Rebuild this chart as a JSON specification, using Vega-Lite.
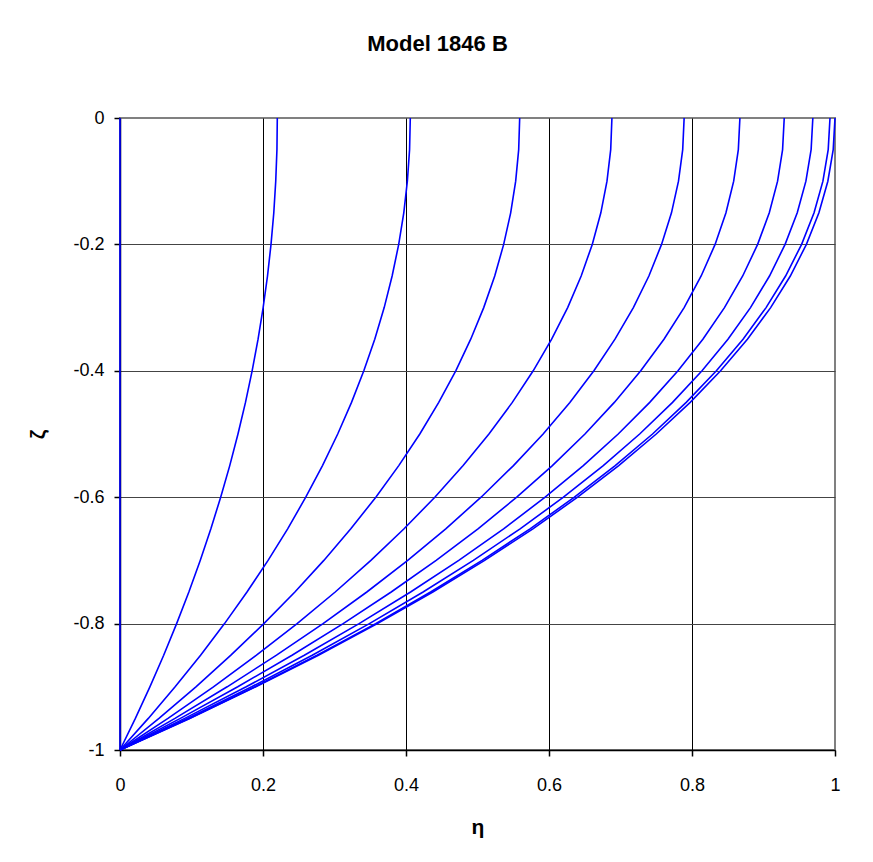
{
"$schema": "https://vega.github.io/schema/vega-lite/v6.json",
"width": 715, "height": 632,
"autosize": {"type": "none"},
"padding": {"left": 120, "top": 118, "right": 38, "bottom": 112},
"background": "white",
"title": {"text": "Model 1846 B", "font": "Liberation Sans", "fontSize": 22, "fontWeight": "bold", "color": "#000000", "anchor": "middle", "dx": -40, "offset": 53},
"datasets": {"curves": [
{"c":1,"eta":0,"zeta":0},{"c":1,"eta":0,"zeta":-1},
{"c":2,"eta":0.22,"zeta":0},{"c":2,"eta":0.2195,"zeta":-0.05},{"c":2,"eta":0.2178,"zeta":-0.1},{"c":2,"eta":0.2151,"zeta":-0.15},{"c":2,"eta":0.2112,"zeta":-0.2},{"c":2,"eta":0.2063,"zeta":-0.25},{"c":2,"eta":0.2002,"zeta":-0.3},{"c":2,"eta":0.1931,"zeta":-0.35},{"c":2,"eta":0.1848,"zeta":-0.4},{"c":2,"eta":0.1755,"zeta":-0.45},{"c":2,"eta":0.165,"zeta":-0.5},{"c":2,"eta":0.1535,"zeta":-0.55},{"c":2,"eta":0.1408,"zeta":-0.6},{"c":2,"eta":0.1271,"zeta":-0.65},{"c":2,"eta":0.1122,"zeta":-0.7},{"c":2,"eta":0.0963,"zeta":-0.75},{"c":2,"eta":0.0792,"zeta":-0.8},{"c":2,"eta":0.0611,"zeta":-0.85},{"c":2,"eta":0.0418,"zeta":-0.9},{"c":2,"eta":0.0215,"zeta":-0.95},{"c":2,"eta":0,"zeta":-1},
{"c":3,"eta":0.406,"zeta":0},{"c":3,"eta":0.405,"zeta":-0.05},{"c":3,"eta":0.4019,"zeta":-0.1},{"c":3,"eta":0.3969,"zeta":-0.15},{"c":3,"eta":0.3898,"zeta":-0.2},{"c":3,"eta":0.3806,"zeta":-0.25},{"c":3,"eta":0.3695,"zeta":-0.3},{"c":3,"eta":0.3563,"zeta":-0.35},{"c":3,"eta":0.341,"zeta":-0.4},{"c":3,"eta":0.3238,"zeta":-0.45},{"c":3,"eta":0.3045,"zeta":-0.5},{"c":3,"eta":0.2832,"zeta":-0.55},{"c":3,"eta":0.2598,"zeta":-0.6},{"c":3,"eta":0.2345,"zeta":-0.65},{"c":3,"eta":0.2071,"zeta":-0.7},{"c":3,"eta":0.1776,"zeta":-0.75},{"c":3,"eta":0.1462,"zeta":-0.8},{"c":3,"eta":0.1127,"zeta":-0.85},{"c":3,"eta":0.0771,"zeta":-0.9},{"c":3,"eta":0.0396,"zeta":-0.95},{"c":3,"eta":0,"zeta":-1},
{"c":4,"eta":0.559,"zeta":0},{"c":4,"eta":0.5576,"zeta":-0.05},{"c":4,"eta":0.5534,"zeta":-0.1},{"c":4,"eta":0.5464,"zeta":-0.15},{"c":4,"eta":0.5366,"zeta":-0.2},{"c":4,"eta":0.5241,"zeta":-0.25},{"c":4,"eta":0.5087,"zeta":-0.3},{"c":4,"eta":0.4905,"zeta":-0.35},{"c":4,"eta":0.4696,"zeta":-0.4},{"c":4,"eta":0.4458,"zeta":-0.45},{"c":4,"eta":0.4193,"zeta":-0.5},{"c":4,"eta":0.3899,"zeta":-0.55},{"c":4,"eta":0.3578,"zeta":-0.6},{"c":4,"eta":0.3228,"zeta":-0.65},{"c":4,"eta":0.2851,"zeta":-0.7},{"c":4,"eta":0.2446,"zeta":-0.75},{"c":4,"eta":0.2012,"zeta":-0.8},{"c":4,"eta":0.1551,"zeta":-0.85},{"c":4,"eta":0.1062,"zeta":-0.9},{"c":4,"eta":0.0545,"zeta":-0.95},{"c":4,"eta":0,"zeta":-1},
{"c":5,"eta":0.688,"zeta":0},{"c":5,"eta":0.6863,"zeta":-0.05},{"c":5,"eta":0.6811,"zeta":-0.1},{"c":5,"eta":0.6725,"zeta":-0.15},{"c":5,"eta":0.6605,"zeta":-0.2},{"c":5,"eta":0.645,"zeta":-0.25},{"c":5,"eta":0.6261,"zeta":-0.3},{"c":5,"eta":0.6037,"zeta":-0.35},{"c":5,"eta":0.5779,"zeta":-0.4},{"c":5,"eta":0.5487,"zeta":-0.45},{"c":5,"eta":0.516,"zeta":-0.5},{"c":5,"eta":0.4799,"zeta":-0.55},{"c":5,"eta":0.4403,"zeta":-0.6},{"c":5,"eta":0.3973,"zeta":-0.65},{"c":5,"eta":0.3509,"zeta":-0.7},{"c":5,"eta":0.301,"zeta":-0.75},{"c":5,"eta":0.2477,"zeta":-0.8},{"c":5,"eta":0.1909,"zeta":-0.85},{"c":5,"eta":0.1307,"zeta":-0.9},{"c":5,"eta":0.0671,"zeta":-0.95},{"c":5,"eta":0,"zeta":-1},
{"c":6,"eta":0.789,"zeta":0},{"c":6,"eta":0.787,"zeta":-0.05},{"c":6,"eta":0.7811,"zeta":-0.1},{"c":6,"eta":0.7713,"zeta":-0.15},{"c":6,"eta":0.7574,"zeta":-0.2},{"c":6,"eta":0.7397,"zeta":-0.25},{"c":6,"eta":0.718,"zeta":-0.3},{"c":6,"eta":0.6923,"zeta":-0.35},{"c":6,"eta":0.6628,"zeta":-0.4},{"c":6,"eta":0.6292,"zeta":-0.45},{"c":6,"eta":0.5918,"zeta":-0.5},{"c":6,"eta":0.5503,"zeta":-0.55},{"c":6,"eta":0.505,"zeta":-0.6},{"c":6,"eta":0.4556,"zeta":-0.65},{"c":6,"eta":0.4024,"zeta":-0.7},{"c":6,"eta":0.3452,"zeta":-0.75},{"c":6,"eta":0.284,"zeta":-0.8},{"c":6,"eta":0.2189,"zeta":-0.85},{"c":6,"eta":0.1499,"zeta":-0.9},{"c":6,"eta":0.0769,"zeta":-0.95},{"c":6,"eta":0,"zeta":-1},
{"c":7,"eta":0.867,"zeta":0},{"c":7,"eta":0.8648,"zeta":-0.05},{"c":7,"eta":0.8583,"zeta":-0.1},{"c":7,"eta":0.8475,"zeta":-0.15},{"c":7,"eta":0.8323,"zeta":-0.2},{"c":7,"eta":0.8128,"zeta":-0.25},{"c":7,"eta":0.789,"zeta":-0.3},{"c":7,"eta":0.7608,"zeta":-0.35},{"c":7,"eta":0.7283,"zeta":-0.4},{"c":7,"eta":0.6914,"zeta":-0.45},{"c":7,"eta":0.6503,"zeta":-0.5},{"c":7,"eta":0.6047,"zeta":-0.55},{"c":7,"eta":0.5549,"zeta":-0.6},{"c":7,"eta":0.5007,"zeta":-0.65},{"c":7,"eta":0.4422,"zeta":-0.7},{"c":7,"eta":0.3793,"zeta":-0.75},{"c":7,"eta":0.3121,"zeta":-0.8},{"c":7,"eta":0.2406,"zeta":-0.85},{"c":7,"eta":0.1647,"zeta":-0.9},{"c":7,"eta":0.0845,"zeta":-0.95},{"c":7,"eta":0,"zeta":-1},
{"c":8,"eta":0.929,"zeta":0},{"c":8,"eta":0.9267,"zeta":-0.05},{"c":8,"eta":0.9197,"zeta":-0.1},{"c":8,"eta":0.9081,"zeta":-0.15},{"c":8,"eta":0.8918,"zeta":-0.2},{"c":8,"eta":0.8709,"zeta":-0.25},{"c":8,"eta":0.8454,"zeta":-0.3},{"c":8,"eta":0.8152,"zeta":-0.35},{"c":8,"eta":0.7804,"zeta":-0.4},{"c":8,"eta":0.7409,"zeta":-0.45},{"c":8,"eta":0.6968,"zeta":-0.5},{"c":8,"eta":0.648,"zeta":-0.55},{"c":8,"eta":0.5946,"zeta":-0.6},{"c":8,"eta":0.5365,"zeta":-0.65},{"c":8,"eta":0.4738,"zeta":-0.7},{"c":8,"eta":0.4064,"zeta":-0.75},{"c":8,"eta":0.3344,"zeta":-0.8},{"c":8,"eta":0.2578,"zeta":-0.85},{"c":8,"eta":0.1765,"zeta":-0.9},{"c":8,"eta":0.0906,"zeta":-0.95},{"c":8,"eta":0,"zeta":-1},
{"c":9,"eta":0.969,"zeta":0},{"c":9,"eta":0.9666,"zeta":-0.05},{"c":9,"eta":0.9593,"zeta":-0.1},{"c":9,"eta":0.9472,"zeta":-0.15},{"c":9,"eta":0.9302,"zeta":-0.2},{"c":9,"eta":0.9084,"zeta":-0.25},{"c":9,"eta":0.8818,"zeta":-0.3},{"c":9,"eta":0.8503,"zeta":-0.35},{"c":9,"eta":0.814,"zeta":-0.4},{"c":9,"eta":0.7728,"zeta":-0.45},{"c":9,"eta":0.7268,"zeta":-0.5},{"c":9,"eta":0.6759,"zeta":-0.55},{"c":9,"eta":0.6202,"zeta":-0.6},{"c":9,"eta":0.5596,"zeta":-0.65},{"c":9,"eta":0.4942,"zeta":-0.7},{"c":9,"eta":0.4239,"zeta":-0.75},{"c":9,"eta":0.3488,"zeta":-0.8},{"c":9,"eta":0.2689,"zeta":-0.85},{"c":9,"eta":0.1841,"zeta":-0.9},{"c":9,"eta":0.0945,"zeta":-0.95},{"c":9,"eta":0,"zeta":-1},
{"c":10,"eta":0.993,"zeta":0},{"c":10,"eta":0.9905,"zeta":-0.05},{"c":10,"eta":0.9831,"zeta":-0.1},{"c":10,"eta":0.9707,"zeta":-0.15},{"c":10,"eta":0.9533,"zeta":-0.2},{"c":10,"eta":0.9309,"zeta":-0.25},{"c":10,"eta":0.9036,"zeta":-0.3},{"c":10,"eta":0.8714,"zeta":-0.35},{"c":10,"eta":0.8341,"zeta":-0.4},{"c":10,"eta":0.7919,"zeta":-0.45},{"c":10,"eta":0.7448,"zeta":-0.5},{"c":10,"eta":0.6926,"zeta":-0.55},{"c":10,"eta":0.6355,"zeta":-0.6},{"c":10,"eta":0.5735,"zeta":-0.65},{"c":10,"eta":0.5064,"zeta":-0.7},{"c":10,"eta":0.4344,"zeta":-0.75},{"c":10,"eta":0.3575,"zeta":-0.8},{"c":10,"eta":0.2756,"zeta":-0.85},{"c":10,"eta":0.1887,"zeta":-0.9},{"c":10,"eta":0.0968,"zeta":-0.95},{"c":10,"eta":0,"zeta":-1},
{"c":11,"eta":1,"zeta":0},{"c":11,"eta":0.9975,"zeta":-0.05},{"c":11,"eta":0.99,"zeta":-0.1},{"c":11,"eta":0.9775,"zeta":-0.15},{"c":11,"eta":0.96,"zeta":-0.2},{"c":11,"eta":0.9375,"zeta":-0.25},{"c":11,"eta":0.91,"zeta":-0.3},{"c":11,"eta":0.8775,"zeta":-0.35},{"c":11,"eta":0.84,"zeta":-0.4},{"c":11,"eta":0.7975,"zeta":-0.45},{"c":11,"eta":0.75,"zeta":-0.5},{"c":11,"eta":0.6975,"zeta":-0.55},{"c":11,"eta":0.64,"zeta":-0.6},{"c":11,"eta":0.5775,"zeta":-0.65},{"c":11,"eta":0.51,"zeta":-0.7},{"c":11,"eta":0.4375,"zeta":-0.75},{"c":11,"eta":0.36,"zeta":-0.8},{"c":11,"eta":0.2775,"zeta":-0.85},{"c":11,"eta":0.19,"zeta":-0.9},{"c":11,"eta":0.0975,"zeta":-0.95},{"c":11,"eta":0,"zeta":-1}
]},
"data": {"name": "curves"},
"mark": {"type": "line", "color": "#0000ff", "strokeWidth": 1.6, "clip": false},
"encoding": {
 "x": {"field": "eta", "type": "quantitative", "scale": {"domain": [0, 1], "nice": false, "zero": false},
  "axis": {"title": "η", "values": [0, 0.2, 0.4, 0.6, 0.8, 1], "format": "", "grid": true,
   "gridColor": {"condition": {"test": "datum.value == 0 || datum.value == 1", "value": "transparent"}, "value": "#000000"},
   "gridOpacity": 1, "gridWidth": 1, "domainColor": "#000000", "domainWidth": 1.5, "tickColor": "#000000", "tickSize": 6, "tickWidth": 1.5,
   "labelFont": "Liberation Sans", "labelFontSize": 18, "labelColor": "#000000", "labelPadding": 20, "labelFlush": false,
   "titleFont": "Liberation Sans", "titleFontSize": 21, "titleFontWeight": "bold", "titleColor": "#000000", "titlePadding": 22}},
 "y": {"field": "zeta", "type": "quantitative", "scale": {"domain": [-1, 0], "nice": false, "zero": false},
  "axis": {"title": "ζ", "values": [-1, -0.8, -0.6, -0.4, -0.2, 0], "format": "", "labelExpr": "replace(datum.label, '−', '-')", "grid": true,
   "gridColor": {"condition": {"test": "datum.value == 0", "value": "transparent"}, "value": "#444444"},
   "gridOpacity": 1, "gridWidth": 1, "domainColor": "#000000", "domainWidth": 1.5, "tickColor": "#000000", "tickSize": 6, "tickWidth": 1.5,
   "labelFont": "Liberation Sans", "labelFontSize": 18, "labelColor": "#000000", "labelPadding": 10, "labelFlush": false,
   "titleFont": "Liberation Sans", "titleFontSize": 21, "titleFontWeight": "bold", "titleColor": "#000000", "titlePadding": 24}},
 "detail": {"field": "c", "type": "nominal"},
 "order": {"field": "zeta", "type": "quantitative"}
},
"config": {"view": {"stroke": "#808080", "strokeWidth": 2}}
}
